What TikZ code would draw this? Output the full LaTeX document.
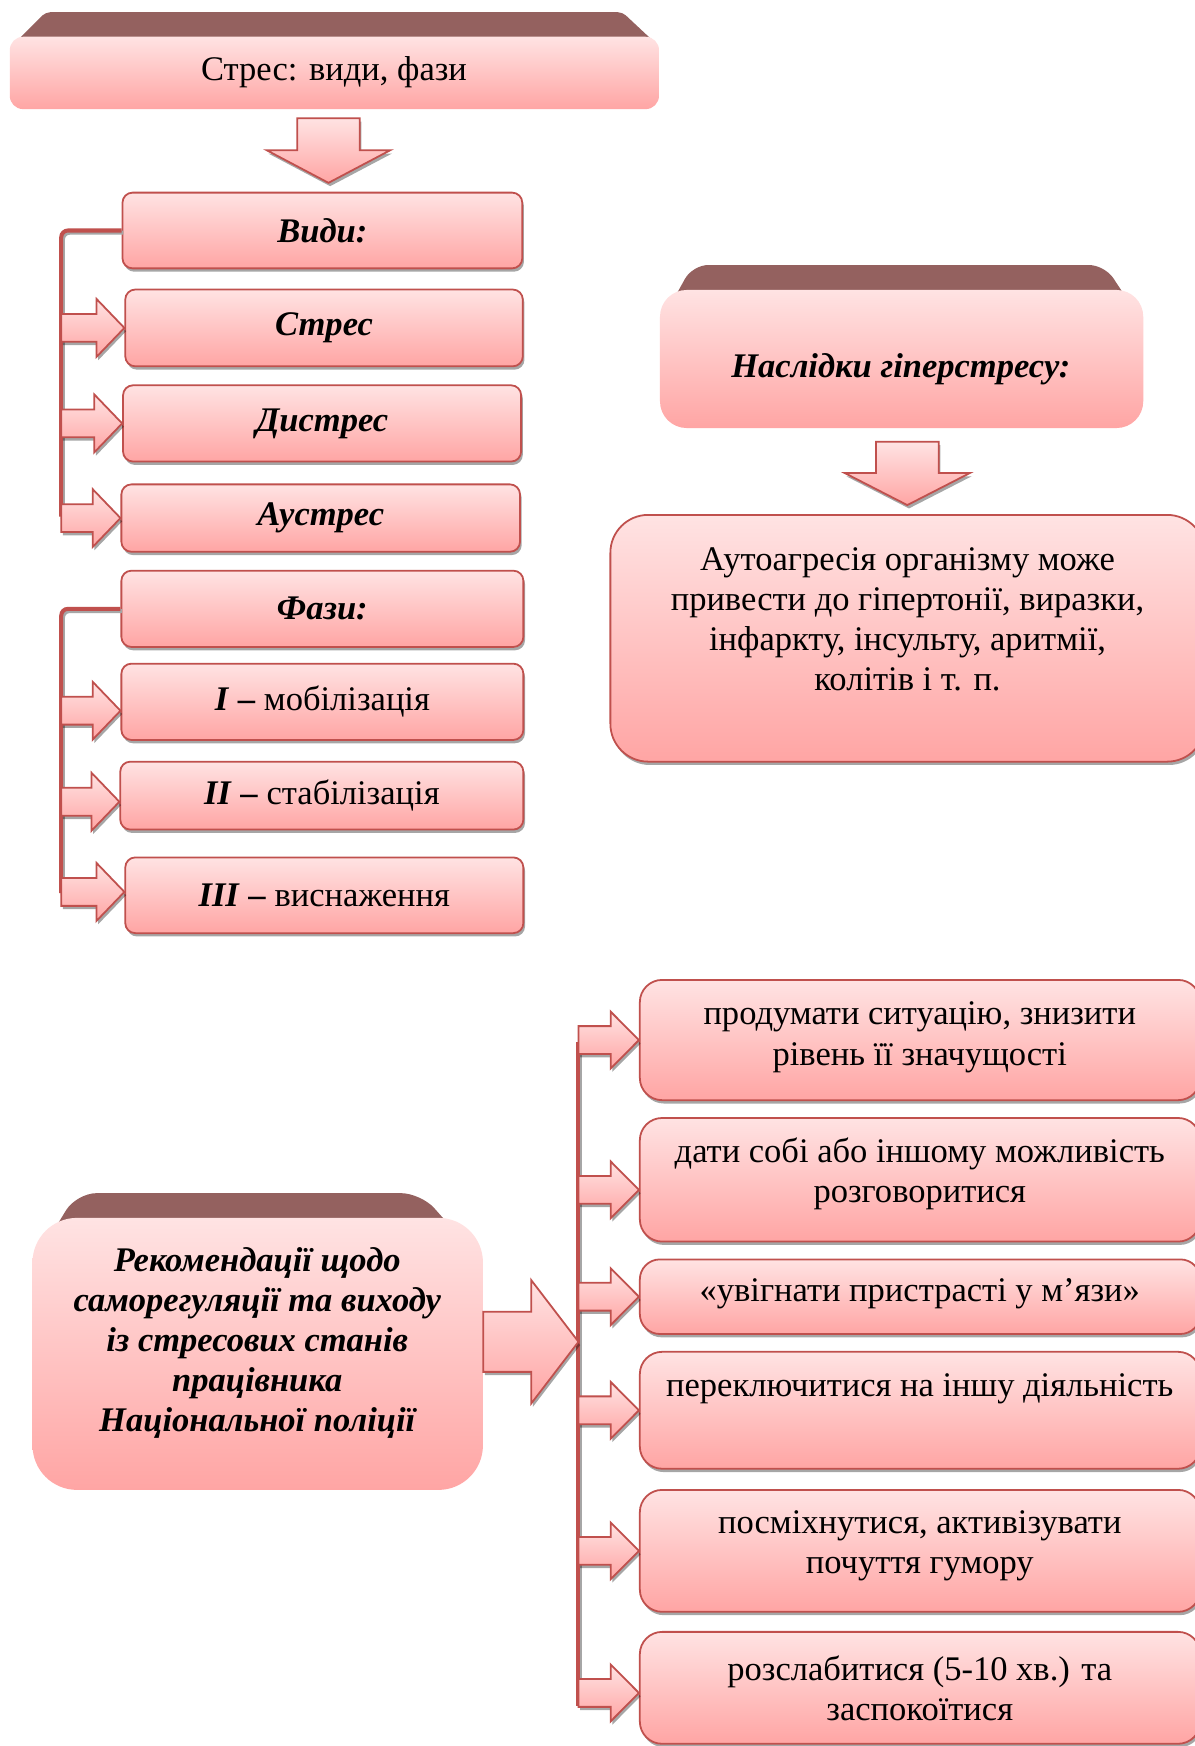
\documentclass[tikz,border=0pt]{standalone}
\usepackage{fontspec}
\setmainfont{Liberation Serif}
\usetikzlibrary{calc,shadows}
\definecolor{bord}{HTML}{C0504D}
\definecolor{ftop}{HTML}{FFE3E3}
\definecolor{fbot}{HTML}{FFA5A4}
\definecolor{bevel}{HTML}{94615F}
\tikzset{
 txt/.style={font=\fontsize{31}{36}\selectfont, align=center, inner sep=0pt},
 bitxt/.style={font=\fontsize{31}{36}\selectfont\bfseries\itshape, align=center, inner sep=0pt},
 shad/.style={drop shadow={shadow xshift=1.5pt, shadow yshift=-3pt, fill=black, opacity=0.35}},
 pinkbox/.style={rectangle, top color=ftop, bottom color=fbot, draw=bord, line width=1.6pt, inner sep=0pt, shad},
 headbox/.style={rectangle, top color=ftop, bottom color=fbot, inner sep=0pt},
 bevelshape/.style={fill=bevel},
 blockarrow/.style={top color=ftop, bottom color=fbot, draw=bord, line width=1.6pt, shad},
 bracket/.style={draw=bord, line width=3.6pt, preaction={draw=black!35, line width=3.6pt, transform canvas={shift={(1.5pt,-2pt)}}}},
}
% right-pointing block arrow: tip, tail (x used), head length, head half width, shaft half width
\newcommand{\barR}[5]{%
 \path[blockarrow] let \p1=(#1), \p2=(#2) in (\p1) -- ++(-#3,-#4) -- ++(0,{#4-#5}) -- (\x2,\y1+#5) -- (\x2,\y1-#5) -- (\x1-#3,\y1-#5) -- ++(0,{#4-#5}) -- cycle;}
% down-pointing block arrow: tip, tail (y used), head length, head half width, shaft half width
\newcommand{\barD}[5]{%
 \path[blockarrow] let \p1=(#1), \p2=(#2) in (\p1) -- ++(-#4,-#3) -- ++({#4-#5},0) -- (\x1-#5,\y2) -- (\x1+#5,\y2) -- (\x1+#5,\y1+#3) -- ++({#4-#5},0) -- cycle;}
\begin{document}
\begin{tikzpicture}[x=1pt,y=-1pt]
\path[use as bounding box, fill=white] (0,0) rectangle (1073,1568);
\clip (0,0) rectangle (1073,1568);

% ---- header 1
\path[bevelshape, rounded corners=4pt] (12,40) -- (41,11) -- (559,11) -- (590,40) -- cycle;
\node[headbox, rounded corners=12pt, minimum width=583pt, minimum height=65pt] (bhead) at (300.3,65.5) {};
\node[txt] (thead) at (300,64.5) {Стрес: види, фази};

\coordinate (d1s) at ($(bhead.south)+(-5.3,8)$);
\coordinate (d1e) at ($(bhead.south)+(-5.3,66)$);

% ---- left column
\node[pinkbox, rounded corners=9pt, minimum width=359pt, minimum height=68pt, bitxt] (bvydy) at (289.5,207) {Види:};
\node[pinkbox, rounded corners=9pt, minimum width=357pt, minimum height=69pt, bitxt] (bstres) at (291,294.5) {Стрес};
\node[pinkbox, rounded corners=9pt, minimum width=357.5pt, minimum height=68.5pt, bitxt] (bdys) at (289.25,380.25) {Дистрес};
\node[pinkbox, rounded corners=9pt, minimum width=358pt, minimum height=60.5pt, bitxt] (baus) at (288,465.25) {Аустрес};
\node[pinkbox, rounded corners=9pt, minimum width=361pt, minimum height=68.5pt, bitxt] (bfazy) at (289.5,546.75) {Фази:};
\node[pinkbox, rounded corners=9pt, minimum width=361pt, minimum height=68.5pt, txt] (bI) at (289.5,630.25) {\textbf{\textit{I} –} мобілізація};
\node[pinkbox, rounded corners=9pt, minimum width=362pt, minimum height=61pt, txt] (bII) at (289,714.5) {\textbf{\textit{II} –} стабілізація};
\node[pinkbox, rounded corners=9pt, minimum width=357.5pt, minimum height=68pt, txt] (bIII) at (291.25,804) {\textbf{\textit{III} –} виснаження};

\barD{d1e}{d1s}{29.3}{55.5}{28}

\coordinate (vEnd) at (55,464);
\coordinate (fEnd) at (55,802);
\draw[bracket, rounded corners=6pt] (bvydy.west) -| (vEnd);
\draw[bracket, rounded corners=6pt] (bfazy.west) -| (fEnd);

\barR{bstres.west}{vEnd}{25}{26}{12.5}
\barR{bdys.west}{vEnd}{25}{26}{12.5}
\barR{baus.west}{vEnd}{25}{26}{12.5}
\barR{$(bI.west)+(0,8)$}{fEnd}{25}{26}{12.5}
\barR{$(bII.west)+(0,5.5)$}{fEnd}{25}{26}{12.5}
\barR{$(bIII.west)+(0,-3)$}{fEnd}{25}{26}{12.5}

% ---- right top
\path[bevelshape, rounded corners=14pt] (596,285) -- (622,238) -- (992,238) -- (1023,285) -- cycle;
\node[headbox, rounded corners=24pt, minimum width=434pt, minimum height=124pt] (bnasl) at (809.7,322.4) {};
\node[bitxt] (tnasl) at (809,332) {Наслідки гіперстресу:};

\node[pinkbox, rounded corners=34pt, minimum width=534pt, minimum height=221.6pt] (bauto) at (815.15,573.2) {};
\node[txt] (tauto) at (815,556) {Аутоагресія організму може\\привести до гіпертонії, виразки,\\інфаркту, інсульту, аритмії,\\колітів і т. п.};

\coordinate (d2s) at ($(bnasl.south)+(5.1,12.2)$);
\coordinate (d2e) at ($(bauto.north)+(-0.35,-8)$);
\barD{d2e}{d2s}{28.8}{56.2}{28.2}

% ---- bottom
\path[bevelshape, rounded corners=18pt] (33,1130) -- (68.7,1071.5) -- (378,1071.5) -- (430,1130) -- cycle;
\node[headbox, rounded corners=40pt, minimum width=404.5pt, minimum height=244.3pt] (brek) at (231.45,1215.85) {};
\node[bitxt] (trek) at (231,1206) {Рекомендації щодо\\саморегуляції та виходу\\із стресових станів\\працівника\\Національної поліції};

\node[pinkbox, rounded corners=20pt, minimum width=503.4pt, minimum height=108pt] (r1) at (826.3,934) {};
\node[pinkbox, rounded corners=20pt, minimum width=503.4pt, minimum height=111pt] (r2) at (826.3,1059.5) {};
\node[pinkbox, rounded corners=18pt, minimum width=503.4pt, minimum height=67pt] (r3) at (826.3,1164.5) {};
\node[pinkbox, rounded corners=20pt, minimum width=503.4pt, minimum height=105pt] (r4) at (826.3,1266.5) {};
\node[pinkbox, rounded corners=20pt, minimum width=503.4pt, minimum height=109.5pt] (r5) at (826.3,1392.75) {};
\node[pinkbox, rounded corners=20pt, minimum width=503.4pt, minimum height=100.5pt] (r6) at (826.3,1515.75) {};

\node[txt] (t1) at (826,931.5) {продумати ситуацію, знизити\\рівень її значущості};
\node[txt] (t2) at (826,1054.5) {дати собі або іншому можливість\\розговоритися};
\node[txt] (t3) at (826,1162) {«увігнати пристрасті у м’язи»};
\node[txt] (t4) at (826,1247) {переключитися на іншу діяльність};
\node[txt] (t5) at (826,1388.5) {посміхнутися, активізувати\\почуття гумору};
\node[txt] (t6) at (826,1516.5) {розслабитися (5-10 хв.) та\\заспокоїтися};

\coordinate (rTop) at (519.5,936);
\coordinate (rBot) at (519.5,1532);
\coordinate (hub) at (519.5,1205);
\draw[bracket] (rTop) -- (rBot);

\barR{r1.west}{rTop}{25.4}{25.5}{12.5}
\barR{$(r2.west)+(0,9)$}{rTop}{25.4}{25.5}{12.5}
\barR{r3.west}{rTop}{25.4}{25.5}{12.5}
\barR{r4.west}{rTop}{25.4}{25.5}{12.5}
\barR{r5.west}{rTop}{25.4}{25.5}{12.5}
\barR{$(r6.west)+(0,4.6)$}{rTop}{25.4}{25.5}{12.5}

\barR{hub}{brek.east}{42.5}{55.5}{27}
\end{tikzpicture}
\end{document}
